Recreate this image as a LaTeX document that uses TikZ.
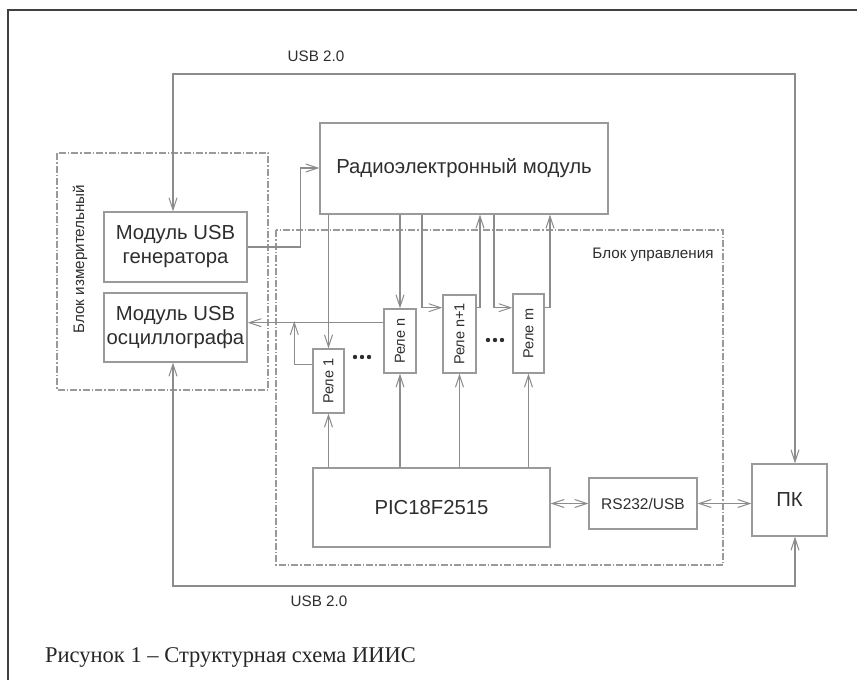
\documentclass[tikz,border=0pt]{standalone}
\usepackage{fontspec}
\setmainfont{Liberation Serif}
\setsansfont{Liberation Sans}
\usetikzlibrary{arrows.meta}
\definecolor{wire}{HTML}{8C8C8C}
\definecolor{boxline}{HTML}{9A9A9A}
\definecolor{ink}{HTML}{2E2E2E}
\tikzset{
  unit/.style={draw=boxline, line width=1.4pt, fill=white, inner sep=0pt,
    text=ink, font=\sffamily\fontsize{20.3}{24}\selectfont, align=center},
  relay/.style={unit, font=\sffamily\fontsize{14.5}{16}\selectfont},
  group/.style={draw=boxline, line width=1.2pt,
    dash pattern=on 7pt off 2pt on 1.5pt off 2pt},
  wireline/.style={draw=wire, line width=1.3pt},
  barb/.tip={Straight Barb[length=12pt,width=8pt,line width=1pt]},
  arr/.style={wireline, -barb},
  arrboth/.style={wireline, barb-barb},
  lbl/.style={text=ink, font=\sffamily\fontsize{15.2}{18}\selectfont, inner sep=0pt},
  dot/.style={fill=ink, draw=none, circle, minimum size=4.4pt, inner sep=0pt},
}
\begin{document}
\begin{tikzpicture}[x=1pt, y=-1pt]
\useasboundingbox (0,0) rectangle (857,680);
\fill[white] (0,0) rectangle (857,680);
% page frame
\draw[draw=black!75, line width=1.6pt] (8,680) -- (8,10) -- (857,10);

% group outlines
\draw[group] (57,153) rectangle (268,390);
\draw[group] (276,230) rectangle (723,565);
\node[lbl, rotate=90] (measlabel) at (80,259) {Блок измерительный};
\node[lbl] (ctrllabel) at (653,255) {Блок управления};

% units
\node[unit, minimum width=288pt, minimum height=91pt] (radio) at (464,168.5) {Радиоэлектронный модуль};
\node[unit, minimum width=143pt, minimum height=70pt] (gen) at (175.5,247) {Модуль USB\\генератора};
\node[unit, minimum width=143pt, minimum height=69pt] (osc) at (175.5,327.5) {Модуль USB\\осциллографа};
\node[relay, minimum width=31pt, minimum height=64pt] (rele1) at (328.5,381) {\rotatebox{90}{Реле 1}};
\node[relay, minimum width=32pt, minimum height=64pt] (relen) at (400,341) {\rotatebox{90}{Реле n}};
\node[relay, minimum width=33pt, minimum height=78pt] (relen1) at (459.5,334) {\rotatebox{90}{Реле n+1}};
\node[relay, minimum width=31pt, minimum height=79pt] (relem) at (528.5,333.5) {\rotatebox{90}{Реле m}};
\node[unit, minimum width=237pt, minimum height=79pt] (pic) at (431.5,507.5) {PIC18F2515};
\node[unit, font=\sffamily\fontsize{15.5}{18}\selectfont, minimum width=108pt, minimum height=51pt] (rs) at (643,503.5) {RS232/USB};
\node[unit, minimum width=75pt, minimum height=72pt] (pk) at (789.5,500) {ПК};

% ellipsis dots between relays
\foreach \i in {-7,0,7} {
  \node[dot] at (362+\i,357) {};
  \node[dot] at (495+\i,340) {};
}

% bend points
\coordinate (usbtop) at (484,74);
\coordinate (usbbot) at (484,586);
\coordinate (gtop) at (173,0);
\coordinate (pkx) at (795,0);
\coordinate (genbend) at (300.6,168);
\coordinate (oscline) at (0,322.7);
\coordinate (r1bend) at (294.3,364.7);
\coordinate (na) at (422,307.7);
\coordinate (nb) at (480,307.7);
\coordinate (ma) at (494,307.7);
\coordinate (mb) at (550,307.7);

% USB 2.0 links to the PC
\draw[arrboth] (gen.north -| gtop) |- (usbtop) -| (pk.north -| pkx);
\draw[arrboth] (osc.south -| gtop) |- (usbbot) -| (pk.south -| pkx);
\node[lbl] (usba) at (316,56) {USB 2.0};
\node[lbl] (usbb) at (319,601) {USB 2.0};

% generator output to the radio module
\draw[arr] (gen.east) -| (genbend) -- (radio.west |- genbend);

% radio module to relays
\draw[arr] (radio.south -| rele1.north) -- (rele1.north);
\draw[arr] (radio.south -| relen.north) -- (relen.north);
\draw[arr] (radio.south -| na) |- (relen1.west |- na);
\draw[arr] (relen1.east |- nb) -| (radio.south -| nb);
\draw[arr] (radio.south -| ma) |- (relem.west |- ma);
\draw[arr] (relem.east |- mb) -| (radio.south -| mb);

% relays to the oscilloscope
\draw[arr] (relen.west |- oscline) -- (osc.east |- oscline);
\draw[arr] (rele1.west |- r1bend) -| ([yshift=1.5pt]r1bend |- oscline);

% controller to relays
\draw[arr] (pic.north -| rele1) -- (rele1.south);
\draw[arr] (pic.north -| relen) -- (relen.south);
\draw[arr] (pic.north -| relen1) -- (relen1.south);
\draw[arr] (pic.north -| relem) -- (relem.south);

% serial link
\draw[arrboth] (pic.east |- rs.west) -- (rs.west);
\draw[arrboth] (rs.east) -- (pk.west |- rs.east);

% caption
\node[anchor=west, text=black!85, font=\rmfamily\fontsize{22.5}{26}\selectfont, inner sep=0pt] (caption) at (45,657) {Рисунок 1 – Структурная схема ИИИС};
\end{tikzpicture}
\end{document}
